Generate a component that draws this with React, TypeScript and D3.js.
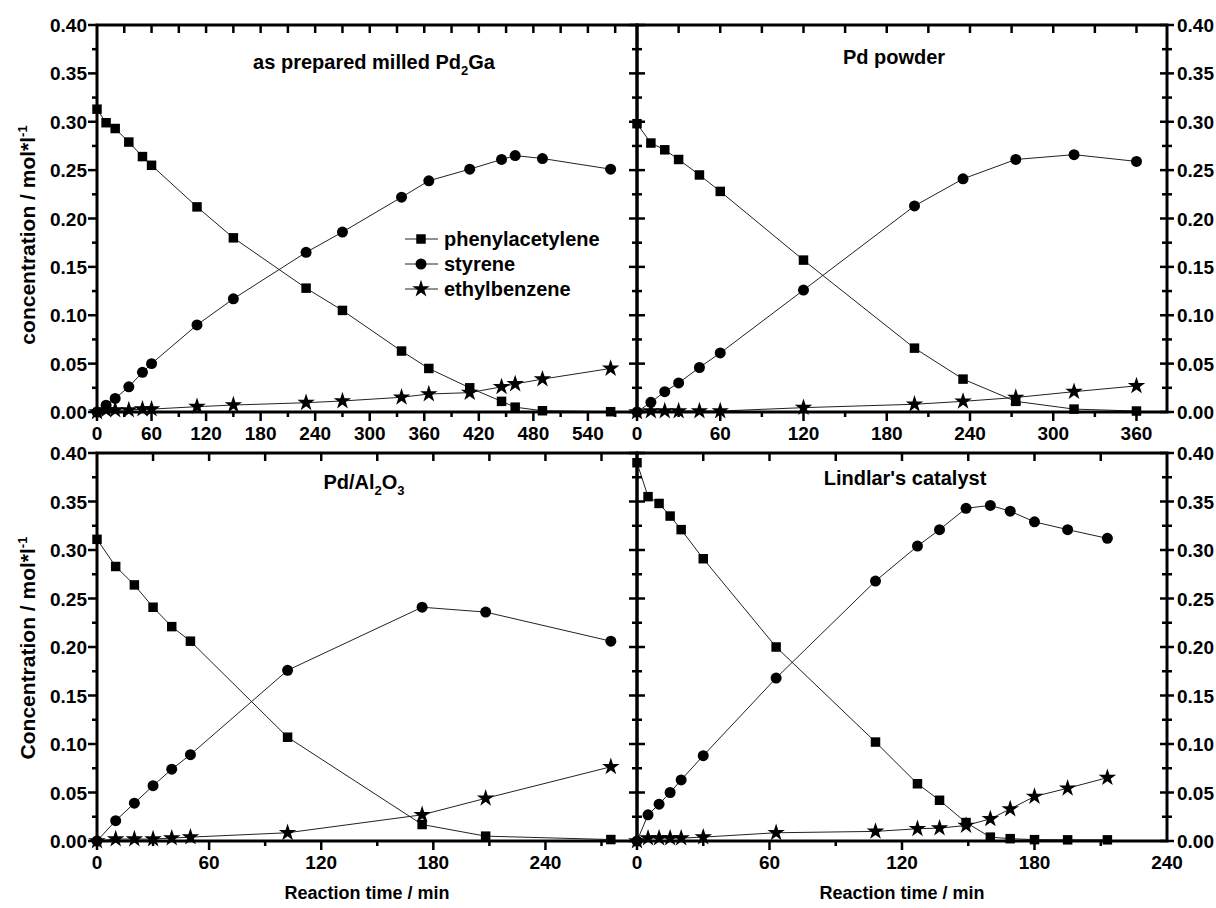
import React from 'react';
import * as d3 from 'd3';

const W = 1216;
const H = 908;
const FONT = '"Liberation Sans", Arial, sans-serif';

// as prepared milled Pd2Ga
const pd2gaTime = [0, 10, 20, 35, 50, 60, 110, 150, 230, 270, 335, 365, 410, 445, 460, 490, 565];
const pd2gaPhenyl = [0.313, 0.299, 0.293, 0.279, 0.264, 0.255, 0.212, 0.18, 0.128, 0.105, 0.063, 0.045, 0.025, 0.011, 0.005, 0.0013, 0.0003];
const pd2gaStyrene = [0, 0.007, 0.014, 0.026, 0.041, 0.05, 0.09, 0.117, 0.165, 0.186, 0.222, 0.239, 0.251, 0.261, 0.265, 0.262, 0.251];
const pd2gaEthyl = [0, 0.002, 0.002, 0.002, 0.003, 0.003, 0.0055, 0.0072, 0.0096, 0.0114, 0.0152, 0.0186, 0.02, 0.026, 0.029, 0.034, 0.045];

// Pd powder
const powderTime = [0, 10, 20, 30, 45, 60, 120, 200, 235, 273, 315, 360];
const powderPhenyl = [0.298, 0.278, 0.271, 0.261, 0.245, 0.228, 0.157, 0.066, 0.034, 0.011, 0.003, 0.001];
const powderStyrene = [0, 0.01, 0.021, 0.03, 0.046, 0.061, 0.126, 0.213, 0.241, 0.261, 0.266, 0.259];
const powderEthyl = [0, 0.001, 0.001, 0.001, 0.001, 0.001, 0.0045, 0.008, 0.011, 0.015, 0.021, 0.027];

// Pd/Al2O3
const aluminaTime = [0, 10, 20, 30, 40, 50, 102, 174, 208, 275];
const aluminaPhenyl = [0.311, 0.283, 0.264, 0.241, 0.221, 0.206, 0.107, 0.017, 0.005, 0.0015];
const aluminaStyrene = [0, 0.021, 0.039, 0.057, 0.074, 0.089, 0.176, 0.241, 0.236, 0.206];
const aluminaEthyl = [0, 0.002, 0.002, 0.002, 0.003, 0.004, 0.0085, 0.027, 0.044, 0.0765];

// Lindlar's catalyst
const lindlarTime = [0, 5, 10, 15, 20, 30, 63, 108, 127, 137, 149, 160, 169, 180, 195, 213];
const lindlarPhenyl = [0.39, 0.355, 0.348, 0.335, 0.321, 0.291, 0.2, 0.102, 0.059, 0.042, 0.019, 0.004, 0.0024, 0.0014, 0.0012, 0.0012];
const lindlarStyrene = [0, 0.027, 0.038, 0.05, 0.063, 0.088, 0.168, 0.268, 0.304, 0.321, 0.343, 0.346, 0.34, 0.329, 0.321, 0.312];
const lindlarEthyl = [0, 0.003, 0.003, 0.003, 0.003, 0.004, 0.0085, 0.0099, 0.0126, 0.0133, 0.016, 0.0228, 0.033, 0.0459, 0.0544, 0.0653];

const seriesNames = ['phenylacetylene', 'styrene', 'ethylbenzene'];
const yTicks = d3.range(0, 0.401, 0.05);
const yMinor = d3.range(0.025, 0.4, 0.05);

const symbols = [
  d3.symbol(d3.symbolSquare, 90)(),
  d3.symbol(d3.symbolCircle, 95)(),
  d3.symbol(d3.symbolStar, 95)(),
];

type PanelCfg = {
  x: [number, number];
  y: [number, number];
  xMax: number;
  xLabelMax: number;
  time: number[];
  series: number[][];
  yLabels: 'left' | 'right';
  leftShared: boolean;
  title: React.ReactNode;
  titleX: number;
  titleY: number;
};

const panels: PanelCfg[] = [
  {
    x: [97, 637], y: [25, 412], xMax: 594, xLabelMax: 540,
    time: pd2gaTime, series: [pd2gaPhenyl, pd2gaStyrene, pd2gaEthyl],
    yLabels: 'left', leftShared: false,
    title: (<>as prepared milled Pd<tspan dy={6} fontSize={13}>2</tspan><tspan dy={-6}>Ga</tspan></>),
    titleX: 374, titleY: 62,
  },
  {
    x: [637, 1167], y: [25, 412], xMax: 382, xLabelMax: 360,
    time: powderTime, series: [powderPhenyl, powderStyrene, powderEthyl],
    yLabels: 'right', leftShared: true,
    title: 'Pd powder', titleX: 894, titleY: 57,
  },
  {
    x: [97, 637], y: [453, 841], xMax: 289, xLabelMax: 240,
    time: aluminaTime, series: [aluminaPhenyl, aluminaStyrene, aluminaEthyl],
    yLabels: 'left', leftShared: false,
    title: (<>Pd/Al<tspan dy={6} fontSize={13}>2</tspan><tspan dy={-6}>O</tspan><tspan dy={6} fontSize={13}>3</tspan></>),
    titleX: 364, titleY: 482,
  },
  {
    x: [637, 1167], y: [453, 841], xMax: 240, xLabelMax: 240,
    time: lindlarTime, series: [lindlarPhenyl, lindlarStyrene, lindlarEthyl],
    yLabels: 'right', leftShared: true,
    title: "Lindlar's catalyst", titleX: 905, titleY: 478,
  },
];

function Panel({ cfg }: { cfg: PanelCfg }) {
  const xs = d3.scaleLinear().domain([0, cfg.xMax]).range(cfg.x);
  const ys = d3.scaleLinear().domain([0, 0.4]).range([cfg.y[1], cfg.y[0]]);
  const [x0, x1] = cfg.x;
  const [yTop, yBot] = cfg.y;
  const xMajor = d3.range(0, cfg.xLabelMax + 1, 60);
  const xAll = d3.range(0, cfg.xMax + 0.1, 30).filter((t) => xs(t) < x1 - 2);
  const line = d3.line<number>().x((_, i) => xs(cfg.time[i])).y((d) => ys(d));
  const leftOut = cfg.leftShared ? 8 : 9;
  return (
    <g>
      {/* data */}
      {cfg.series.map((s, k) => (
        <g key={k}>
          <path d={line(s) || ''} fill="none" stroke="#222" strokeWidth={1} />
          {s.map((v, i) => (
            <path key={i} d={symbols[k]} transform={`translate(${xs(cfg.time[i])},${ys(v)})`} fill="#000" />
          ))}
        </g>
      ))}
      {/* axes frame */}
      <rect x={x0} y={yTop} width={x1 - x0} height={yBot - yTop} fill="none" stroke="#000" strokeWidth={3} />
      {/* x ticks */}
      {xAll.map((t) => {
        const major = t % 60 === 0;
        const X = xs(t);
        return (
          <g key={'xt' + t}>
            <line x1={X} x2={X} y1={yBot} y2={yBot + (major ? 9 : 5)} stroke="#000" strokeWidth={2.5} />
            {t > 0 && <line x1={X} x2={X} y1={yTop} y2={yTop + 8} stroke="#000" strokeWidth={2.5} />}
          </g>
        );
      })}
      {xMajor.map((t) => (
        <text key={'xl' + t} x={xs(t)} y={yBot + 28} textAnchor="middle" fontSize={19} fontWeight="bold" fontFamily={FONT}>
          {t}
        </text>
      ))}
      {/* y ticks */}
      {yTicks.map((v) => (
        <g key={'yt' + v}>
          <line x1={x0 - leftOut} x2={x0 + (cfg.leftShared ? 8 : 0)} y1={ys(v)} y2={ys(v)} stroke="#000" strokeWidth={2.5} />
          {cfg.yLabels === 'right' && (
            <line x1={x1 - 7} x2={x1 + 7} y1={ys(v)} y2={ys(v)} stroke="#000" strokeWidth={2.5} />
          )}
          {cfg.yLabels === 'left' ? (
            <text x={x0 - 10} y={ys(v) + 7} textAnchor="end" fontSize={19} fontWeight="bold" fontFamily={FONT}>
              {v.toFixed(2)}
            </text>
          ) : (
            <text x={x1 + 10} y={ys(v) + 7} textAnchor="start" fontSize={19} fontWeight="bold" fontFamily={FONT}>
              {v.toFixed(2)}
            </text>
          )}
        </g>
      ))}
      {yMinor.map((v) => (
        <g key={'ym' + v}>
          <line x1={x0 - 5} x2={x0 + (cfg.leftShared ? 5 : 0)} y1={ys(v)} y2={ys(v)} stroke="#000" strokeWidth={2.5} />
          {cfg.yLabels === 'right' && (
            <line x1={x1 - 5} x2={x1 + 5} y1={ys(v)} y2={ys(v)} stroke="#000" strokeWidth={2.5} />
          )}
        </g>
      ))}
      <text x={cfg.titleX} y={cfg.titleY + 7} textAnchor="middle" fontSize={20} fontWeight="bold" fontFamily={FONT}>
        {cfg.title}
      </text>
    </g>
  );
}

function Legend({ x, y }: { x: number; y: number }) {
  return (
    <g>
      {seriesNames.map((n, k) => (
        <g key={n} transform={`translate(${x},${y + k * 25})`}>
          <line x1={0} x2={33} y1={0} y2={0} stroke="#222" strokeWidth={1} />
          <path d={symbols[k]} transform="translate(16,0)" fill="#000" />
          <text x={39} y={7} fontSize={20} fontWeight="bold" fontFamily={FONT}>
            {n}
          </text>
        </g>
      ))}
    </g>
  );
}

export default function App() {
  return (
    <svg width={W} height={H} style={{ position: 'absolute', left: 0, top: 0, background: '#fff' }}>
      <rect width={W} height={H} fill="#fff" />
      {panels.map((p, i) => (
        <Panel key={i} cfg={p} />
      ))}
      <Legend x={405} y={239} />
      <text transform="translate(35,235) rotate(-90)" textAnchor="middle" fontSize={21} fontWeight="bold" fontFamily={FONT}>
        concentration / mol*l<tspan dy={-8} fontSize={13}>-1</tspan>
      </text>
      <text transform="translate(35,648) rotate(-90)" textAnchor="middle" fontSize={21} fontWeight="bold" fontFamily={FONT}>
        Concentration / mol*l<tspan dy={-8} fontSize={13}>-1</tspan>
      </text>
      <text x={367} y={899} textAnchor="middle" fontSize={18} fontWeight="bold" fontFamily={FONT}>
        Reaction time / min
      </text>
      <text x={902} y={899} textAnchor="middle" fontSize={18} fontWeight="bold" fontFamily={FONT}>
        Reaction time / min
      </text>
    </svg>
  );
}
